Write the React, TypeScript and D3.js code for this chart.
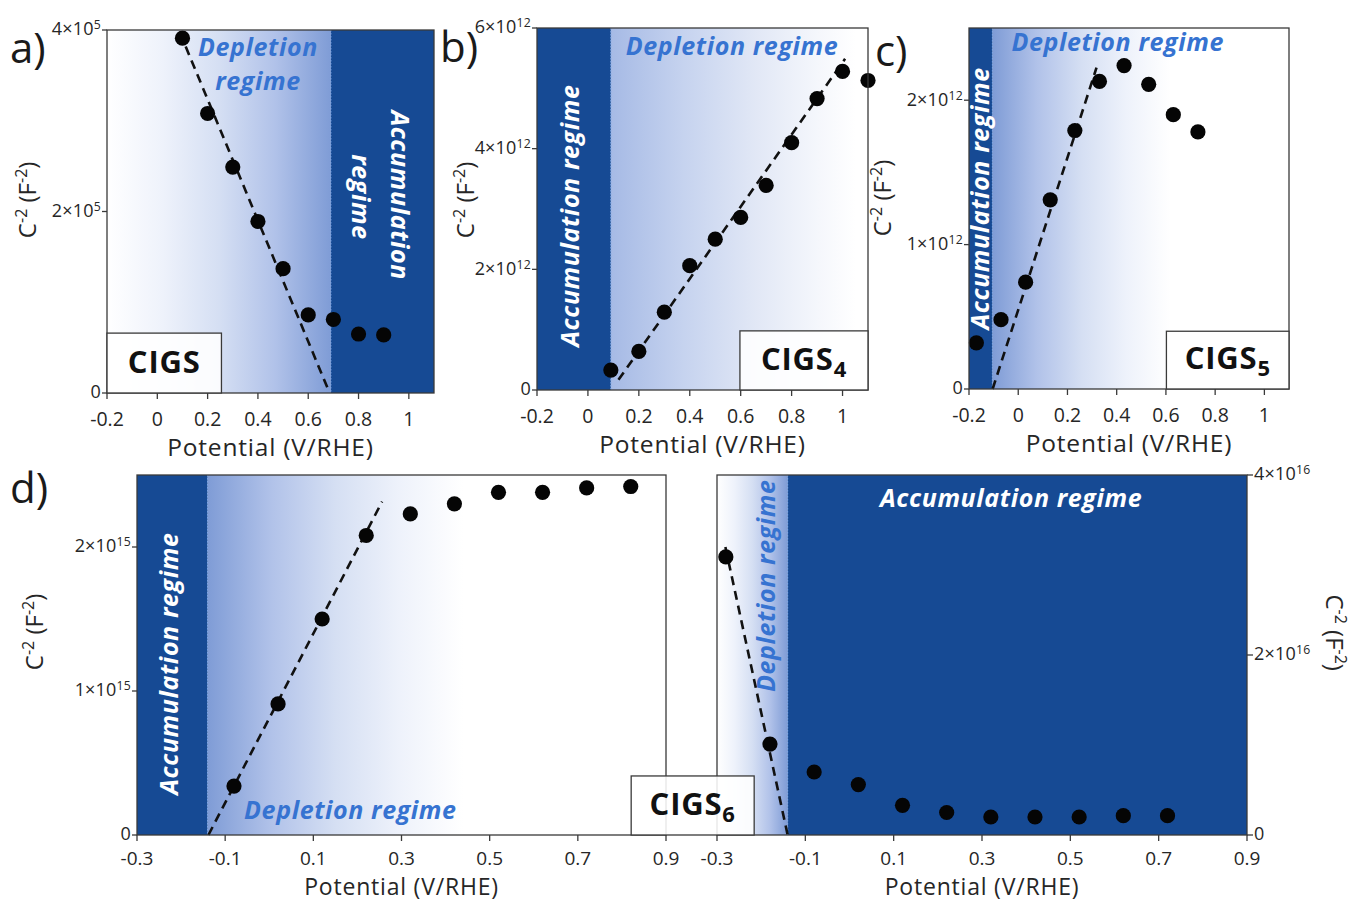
import React from 'react';
import * as d3 from 'd3';

const W = 1354;
const H = 902;
const FONT = '"Open Sans", "Liberation Sans", sans-serif';
const DARK = '#164a94';
const TEXT_BLUE = '#3673d1';

// a) CIGS
const potA = [0.1, 0.2, 0.3, 0.4, 0.5, 0.6, 0.7, 0.8, 0.9];
const capA = [3.91e5, 3.08e5, 2.49e5, 1.89e5, 1.37e5, 0.86e5, 0.81e5, 0.65e5, 0.64e5];
const fitPotA = [0.09, 0.685];
const fitCapA = [3.97e5, 0];

// b) CIGS4
const potB = [0.09, 0.2, 0.3, 0.4, 0.5, 0.6, 0.7, 0.8, 0.9, 1.0, 1.1];
const capB = [0.33e12, 0.64e12, 1.29e12, 2.06e12, 2.5e12, 2.86e12, 3.39e12, 4.1e12, 4.83e12, 5.28e12, 5.13e12];
const fitPotB = [0.12, 1.01];
const fitCapB = [0.17e12, 5.49e12];

// c) CIGS5
const potC = [-0.17, -0.07, 0.03, 0.13, 0.23, 0.33, 0.43, 0.53, 0.63, 0.73];
const capC = [0.32e12, 0.48e12, 0.74e12, 1.31e12, 1.79e12, 2.13e12, 2.24e12, 2.11e12, 1.9e12, 1.78e12];
const fitPotC = [-0.104, 0.318];
const fitCapC = [0, 2.225e12];

// d) CIGS6, left part
const potD1 = [-0.08, 0.02, 0.12, 0.22, 0.32, 0.42, 0.52, 0.62, 0.72, 0.82];
const capD1 = [0.34e15, 0.91e15, 1.5e15, 2.08e15, 2.23e15, 2.3e15, 2.38e15, 2.38e15, 2.41e15, 2.42e15];
const fitPotD1 = [-0.138, 0.256];
const fitCapD1 = [0, 2.315e15];

// d) CIGS6, right part
const potD2 = [-0.28, -0.18, -0.08, 0.02, 0.12, 0.22, 0.32, 0.42, 0.52, 0.62, 0.72];
const capD2 = [3.09e16, 1.01e16, 0.7e16, 0.56e16, 0.33e16, 0.25e16, 0.2e16, 0.2e16, 0.2e16, 0.215e16, 0.215e16];
const fitPotD2 = [-0.281, -0.14];
const fitCapD2 = [3.2e16, 0];

const xTicksABC = [-0.2, 0, 0.2, 0.4, 0.6, 0.8, 1];
const xTicksD = [-0.3, -0.1, 0.1, 0.3, 0.5, 0.7, 0.9];
const yTicksA = [0, 2e5, 4e5];
const yTicksB = [0, 2e12, 4e12, 6e12];
const yTicksC = [0, 1e12, 2e12];
const yTicksD1 = [0, 1e15, 2e15];
const yTicksD2 = [0, 2e16, 4e16];

// gradient from the regime boundary (blue) out to white
const stopsStrong = [[0, '#7f9cd6'], [0.25, '#b1c2e9'], [0.5, '#d5dff3'], [0.75, '#eef2fb'], [1, '#ffffff']];
const stopsSoft = [[0, '#a6bae5'], [0.3, '#c6d3ef'], [0.6, '#e2e8f6'], [0.85, '#f5f7fc'], [1, '#ffffff']];

const panels = [
  {
    id: 'a', box: { x0: 107, y0: 30, x1: 434, y1: 393 }, xDom: [-0.2, 1.1], yDom: [0, 4e5],
    xs: potA, ys: capA, fitX: fitPotA, fitY: fitCapA, xTicks: xTicksABC, yTicks: yTicksA,
    accum: [0.69, 1.1], grad: [0.69, -0.2], stops: stopsStrong,
    tickGap: 33, tickSize: 19.5, titleGap: 63, titleSize: 24.5,
    yTitle: { side: 'left', dx: -79, fy: 0.468 },
    texts: [
      { t: 'Depletion', x: 0.4, y: 3.71e5, c: TEXT_BLUE },
      { t: 'regime', x: 0.4, y: 3.34e5, c: TEXT_BLUE },
      { t: 'Accumulation', x: 0.963, y: 2.18e5, c: '#fff', rot: 90 },
      { t: 'regime', x: 0.81, y: 2.16e5, c: '#fff', rot: 90 },
    ],
    label: { t: 'a)', x: 10, y: 63 },
  },
  {
    id: 'b', box: { x0: 537, y0: 28, x1: 868, y1: 390 }, xDom: [-0.2, 1.1], yDom: [0, 6e12],
    xs: potB, ys: capB, fitX: fitPotB, fitY: fitCapB, xTicks: xTicksABC, yTicks: yTicksB,
    accum: [-0.2, 0.09], grad: [0.09, 1.05], stops: stopsSoft,
    tickGap: 33, tickSize: 19.5, titleGap: 63, titleSize: 24.5,
    yTitle: { side: 'left', dx: -71, fy: 0.475 },
    texts: [
      { t: 'Depletion regime', x: 0.566, y: 5.55e12, c: TEXT_BLUE },
      { t: 'Accumulation regime', x: -0.068, y: 2.89e12, c: '#fff', rot: -90 },
    ],
    label: { t: 'b)', x: 440, y: 62 },
  },
  {
    id: 'c', box: { x0: 969, y0: 28, x1: 1289, y1: 389 }, xDom: [-0.2, 1.1], yDom: [0, 2.5e12],
    xs: potC, ys: capC, fitX: fitPotC, fitY: fitCapC, xTicks: xTicksABC, yTicks: yTicksC,
    accum: [-0.2, -0.105], grad: [-0.105, 0.62], stops: stopsStrong,
    tickGap: 33, tickSize: 19.5, titleGap: 63, titleSize: 24.5,
    yTitle: { side: 'left', dx: -86, fy: 0.471 },
    texts: [
      { t: 'Depletion regime', x: 0.404, y: 2.34e12, c: TEXT_BLUE },
      { t: 'Accumulation regime', x: -0.155, y: 1.32e12, c: '#fff', rot: -90 },
    ],
    label: { t: 'c)', x: 875, y: 66 },
  },
  {
    id: 'd1', box: { x0: 137, y0: 475, x1: 666, y1: 835 }, xDom: [-0.3, 0.9], yDom: [0, 2.5e15],
    xs: potD1, ys: capD1, fitX: fitPotD1, fitY: fitCapD1, xTicks: xTicksD, yTicks: yTicksD1,
    accum: [-0.3, -0.14], grad: [-0.14, 0.44], stops: stopsStrong,
    tickGap: 30, tickSize: 19, titleGap: 60, titleSize: 23,
    yTitle: { side: 'left', dx: -102, fy: 0.436 },
    texts: [
      { t: 'Depletion regime', x: 0.184, y: 0.109e15, c: TEXT_BLUE },
      { t: 'Accumulation regime', x: -0.227, y: 1.19e15, c: '#fff', rot: -90 },
    ],
    label: { t: 'd)', x: 10, y: 503 },
  },
  {
    id: 'd2', box: { x0: 717, y0: 475, x1: 1247, y1: 835 }, xDom: [-0.3, 0.9], yDom: [0, 4e16],
    xs: potD2, ys: capD2, fitX: fitPotD2, fitY: fitCapD2, xTicks: xTicksD, yTicks: yTicksD2,
    accum: [-0.14, 0.9], grad: [-0.14, -0.3], stops: stopsStrong,
    tickGap: 30, tickSize: 19, titleGap: 60, titleSize: 23,
    yTitle: { side: 'right', dx: 87, fy: 0.438 },
    texts: [
      { t: 'Depletion regime', x: -0.189, y: 2.77e16, c: TEXT_BLUE, rot: -90 },
      { t: 'Accumulation regime', x: 0.366, y: 3.64e16, c: '#fff' },
    ],
    label: null,
  },
];

// sample-name boxes, placed in the coordinates of the panel they sit on
const sampleBoxes = [
  { panel: 'a', name: 'CIGS', sub: '', x: [-0.2, 0.255], y: [0, 0.66e5] },
  { panel: 'b', name: 'CIGS', sub: '4', x: [0.597, 1.1], y: [0, 0.98e12] },
  { panel: 'c', name: 'CIGS', sub: '5', x: [0.602, 1.1], y: [0, 0.4e12] },
  { panel: 'd1', name: 'CIGS', sub: '6', x: [0.821, 1.1], y: [0, 0.41e15] },
];

function scalesOf(p) {
  const x = d3.scaleLinear().domain(p.xDom).range([p.box.x0, p.box.x1]);
  const y = d3.scaleLinear().domain(p.yDom).range([p.box.y1, p.box.y0]);
  return { x, y };
}

function Sci({ v }) {
  if (v === 0) return <>0</>;
  const e = Math.floor(Math.log10(v) + 1e-9);
  const m = Math.round(v / Math.pow(10, e));
  return (
    <>
      {`${m}×10`}
      <tspan dy={-6} fontSize="0.68em">{e}</tspan>
    </>
  );
}

function YTitle() {
  return (
    <>
      C<tspan dy={-9} fontSize={16}>-2</tspan>
      <tspan dy={9}> (F</tspan>
      <tspan dy={-9} fontSize={16}>-2</tspan>
      <tspan dy={9}>)</tspan>
    </>
  );
}

function Panel({ p }) {
  const { x, y } = scalesOf(p);
  const { x0, y0, x1, y1 } = p.box;
  const gid = `grad-${p.id}`;
  const gA = x(p.grad[0]);
  const gB = x(p.grad[1]);
  const fit = d3.line<number>().x((_, i) => x(p.fitX[i])).y((v) => y(v))(p.fitY);
  const bx = x(p.accum[0]);
  const bw = x(p.accum[1]) - bx;
  const boundary = p.accum[0] === p.xDom[0] ? x(p.accum[1]) : x(p.accum[0]);
  const yt = p.yTitle;
  const ytX = yt.side === 'left' ? x0 + yt.dx : x1 + yt.dx;
  const ytY = y0 + yt.fy * (y1 - y0);

  return (
    <g>
      <defs>
        <linearGradient id={gid} gradientUnits="userSpaceOnUse" x1={gA} x2={gB} y1={0} y2={0}>
          {p.stops.map(([o, c]) => <stop key={o} offset={o} stopColor={c} />)}
        </linearGradient>
      </defs>
      <rect x={x0} y={y0} width={x1 - x0} height={y1 - y0} fill="#fff" />
      <rect x={Math.min(gA, gB)} y={y0} width={Math.abs(gB - gA)} height={y1 - y0} fill={`url(#${gid})`} />
      <rect x={bx} y={y0} width={bw} height={y1 - y0} fill={DARK} />
      <line x1={boundary} x2={boundary} y1={y0} y2={y1} stroke="#7fa6e6" strokeWidth={1} strokeDasharray="1.5,1.5" />

      {p.texts.map((t, i) => (
        <text
          key={i}
          transform={`translate(${x(t.x)},${y(t.y)})${t.rot ? ` rotate(${t.rot})` : ''}`}
          dy={t.rot ? '0.35em' : 0}
          textAnchor="middle"
          fontFamily={FONT}
          fontSize={25}
          letterSpacing={0.6}
          fontWeight="bold"
          fontStyle="italic"
          fill={t.c}
        >
          {t.t}
        </text>
      ))}

      <path d={fit} fill="none" stroke="#111" strokeWidth={2.6} strokeDasharray="9,6" />
      {p.xs.map((v, i) => (
        <circle key={i} cx={x(v)} cy={y(p.ys[i])} r={7.6} fill="#050505" />
      ))}

      <rect x={x0} y={y0} width={x1 - x0} height={y1 - y0} fill="none" stroke="#3a3a3a" strokeWidth={1.3} />

      {/* x axis */}
      {p.xTicks.map((t) => (
        <g key={t}>
          <line x1={x(t)} x2={x(t)} y1={y1} y2={y1 + 6} stroke="#3a3a3a" strokeWidth={1.3} />
          <text x={x(t)} y={y1 + p.tickGap} textAnchor="middle" fontFamily={FONT} fontSize={p.tickSize} fill="#262626">
            {String(+t.toFixed(1))}
          </text>
        </g>
      ))}
      <text
        x={(x0 + x1) / 2}
        y={y1 + p.titleGap}
        textAnchor="middle"
        fontFamily={FONT}
        fontSize={p.titleSize}
        letterSpacing={0.8}
        fill="#262626"
      >
        Potential (V/RHE)
      </text>

      {/* y axis */}
      {p.yTicks.map((t) => {
        const left = yt.side === 'left';
        const ax = left ? x0 : x1;
        return (
          <g key={t}>
            <line x1={ax} x2={left ? ax - 5 : ax + 6} y1={y(t)} y2={y(t)} stroke="#3a3a3a" strokeWidth={1.3} />
            <text
              x={left ? ax - 6 : ax + 7}
              y={y(t)}
              dy="0.3em"
              textAnchor={left ? 'end' : 'start'}
              fontFamily={FONT}
              fontSize={18}
              letterSpacing={0.2}
              fill="#262626"
            >
              <Sci v={t} />
            </text>
          </g>
        );
      })}
      <text
        transform={`translate(${ytX},${ytY}) rotate(${yt.side === 'left' ? -90 : 90})`}
        dy="0.35em"
        textAnchor="middle"
        fontFamily={FONT}
        fontSize={24}
        fill="#262626"
      >
        <YTitle />
      </text>

      {p.label && (
        <text x={p.label.x} y={p.label.y} fontFamily={FONT} fontSize={42} fill="#1a1a1a">
          {p.label.t}
        </text>
      )}
    </g>
  );
}

function SampleBox({ b }) {
  const p = panels.find((q) => q.id === b.panel);
  const { x, y } = scalesOf(p);
  const bx0 = x(b.x[0]);
  const bx1 = x(b.x[1]);
  const by0 = y(b.y[1]);
  const by1 = y(b.y[0]);
  return (
    <g>
      <rect x={bx0} y={by0} width={bx1 - bx0} height={by1 - by0} fill="#fff" fillOpacity={0.88} stroke="#3a3a3a" strokeWidth={1.3} />
      <text
        x={(bx0 + bx1) / 2}
        y={by1 - 20}
        textAnchor="middle"
        fontFamily={FONT}
        fontSize={31}
        letterSpacing={0.8}
        fontWeight="bold"
        fill="#111"
      >
        {b.name}
        {b.sub && <tspan dy={7} fontSize={22}>{b.sub}</tspan>}
      </text>
    </g>
  );
}

export default function App() {
  return (
    <svg width={W} height={H} style={{ position: 'absolute', left: 0, top: 0, background: '#fff' }}>
      {panels.map((p) => <Panel key={p.id} p={p} />)}
      {sampleBoxes.map((b) => <SampleBox key={b.panel} b={b} />)}
    </svg>
  );
}
